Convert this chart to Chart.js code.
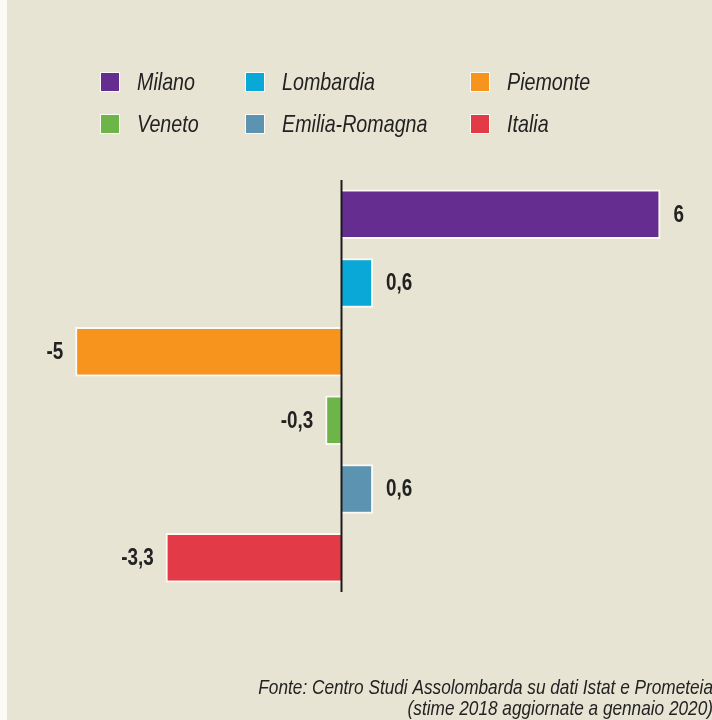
<!DOCTYPE html>
<html>
<head>
<meta charset="utf-8">
<script src="https://cdn.jsdelivr.net/npm/chart.js@4.4.1/dist/chart.umd.min.js"></script>
<style>
  html, body { margin: 0; padding: 0; }
  body { width: 712px; height: 720px; background: #e8e4d4; overflow: hidden; position: relative; }
  #strip { position: absolute; left: 0; top: 0; width: 7px; height: 720px; background: #fbfaf5; }
  #wrap { position: absolute; left: 0; top: 0; width: 712px; height: 720px; }
</style>
</head>
<body>
<div id="strip"></div>
<div id="wrap"><canvas id="c" width="712" height="720"></canvas></div>
<script>
const categories = ["Milano", "Lombardia", "Piemonte", "Veneto", "Emilia-Romagna", "Italia"];
const values = [6, 0.6, -5, -0.3, 0.6, -3.3];
const valueLabels = ["6", "0,6", "-5", "-0,3", "0,6", "-3,3"];
const colors = ["#662d91", "#0aa8d6", "#f7941d", "#6db549", "#5c93b0", "#e23b47"];
const sourceLines = ["Fonte: Centro Studi Assolombarda su dati Istat e Prometeia", "(stime 2018 aggiornate a gennaio 2020)"];

const FONT = "'Liberation Sans', Arial, sans-serif";
const SQUEEZE = 0.82;

function condensedText(ctx, text, x, y, align) {
  const w = ctx.measureText(text).width * SQUEEZE;
  let left = x;
  if (align === 'right') left = x - w;
  else if (align === 'center') left = x - w / 2;
  ctx.save();
  ctx.translate(left, y);
  ctx.scale(SQUEEZE, 1);
  ctx.textAlign = 'left';
  ctx.fillText(text, 0, 0);
  ctx.restore();
}

const extras = {
  id: 'extras',
  afterDatasetsDraw(chart) {
    const ctx = chart.ctx;
    const xs = chart.scales.x;
    const area = chart.chartArea;
    const x0 = Math.round(xs.getPixelForValue(0)) + 0.5;
    ctx.save();
    ctx.strokeStyle = '#1a1a1a';
    ctx.lineWidth = 2;
    ctx.beginPath();
    ctx.moveTo(x0, area.top);
    ctx.lineTo(x0, area.bottom);
    ctx.stroke();
    // value labels
    const meta = chart.getDatasetMeta(0);
    ctx.font = "bold 23px " + FONT;
    ctx.fillStyle = '#222';
    ctx.textBaseline = 'middle';
    meta.data.forEach((bar, i) => {
      const v = values[i];
      if (v >= 0) condensedText(ctx, valueLabels[i], bar.x + 13, bar.y + 1, 'left');
      else condensedText(ctx, valueLabels[i], bar.x - 12, bar.y + 1, 'right');
    });
    // legend
    const colX = [100, 245, 470];
    const rowY = [82, 124];
    ctx.font = "italic 24px " + FONT;
    categories.forEach((name, i) => {
      const col = i % 3, row = Math.floor(i / 3);
      const x = colX[col], y = rowY[row];
      ctx.fillStyle = '#fbfaf5';
      ctx.fillRect(x, y - 10, 20, 20);
      ctx.fillStyle = colors[i];
      ctx.fillRect(x + 1, y - 9, 18, 18);
      ctx.fillStyle = '#222';
      condensedText(ctx, name, x + 37, y + 1, 'left');
    });
    // source
    ctx.font = "italic 21px " + FONT;
    ctx.fillStyle = '#222';
    condensedText(ctx, sourceLines[0], 713, 688, 'right');
    condensedText(ctx, sourceLines[1], 713, 709, 'right');
    ctx.restore();
  }
};

new Chart(document.getElementById('c'), {
  type: 'bar',
  data: {
    labels: categories,
    datasets: [{
      data: values,
      backgroundColor: colors,
      borderColor: '#fbfaf5',
      borderWidth: 2,
      borderSkipped: 'start',
      barPercentage: 0.72,
      categoryPercentage: 1.0
    }]
  },
  options: {
    indexAxis: 'y',
    responsive: false,
    animation: false,
    devicePixelRatio: 1,
    layout: { padding: { left: 22, right: 25, top: 180, bottom: 128 } },
    plugins: { legend: { display: false }, tooltip: { enabled: false } },
    scales: {
      x: { display: false, min: -6, max: 6.5 },
      y: { display: false }
    }
  },
  plugins: [extras]
});
</script>
</body>
</html>
